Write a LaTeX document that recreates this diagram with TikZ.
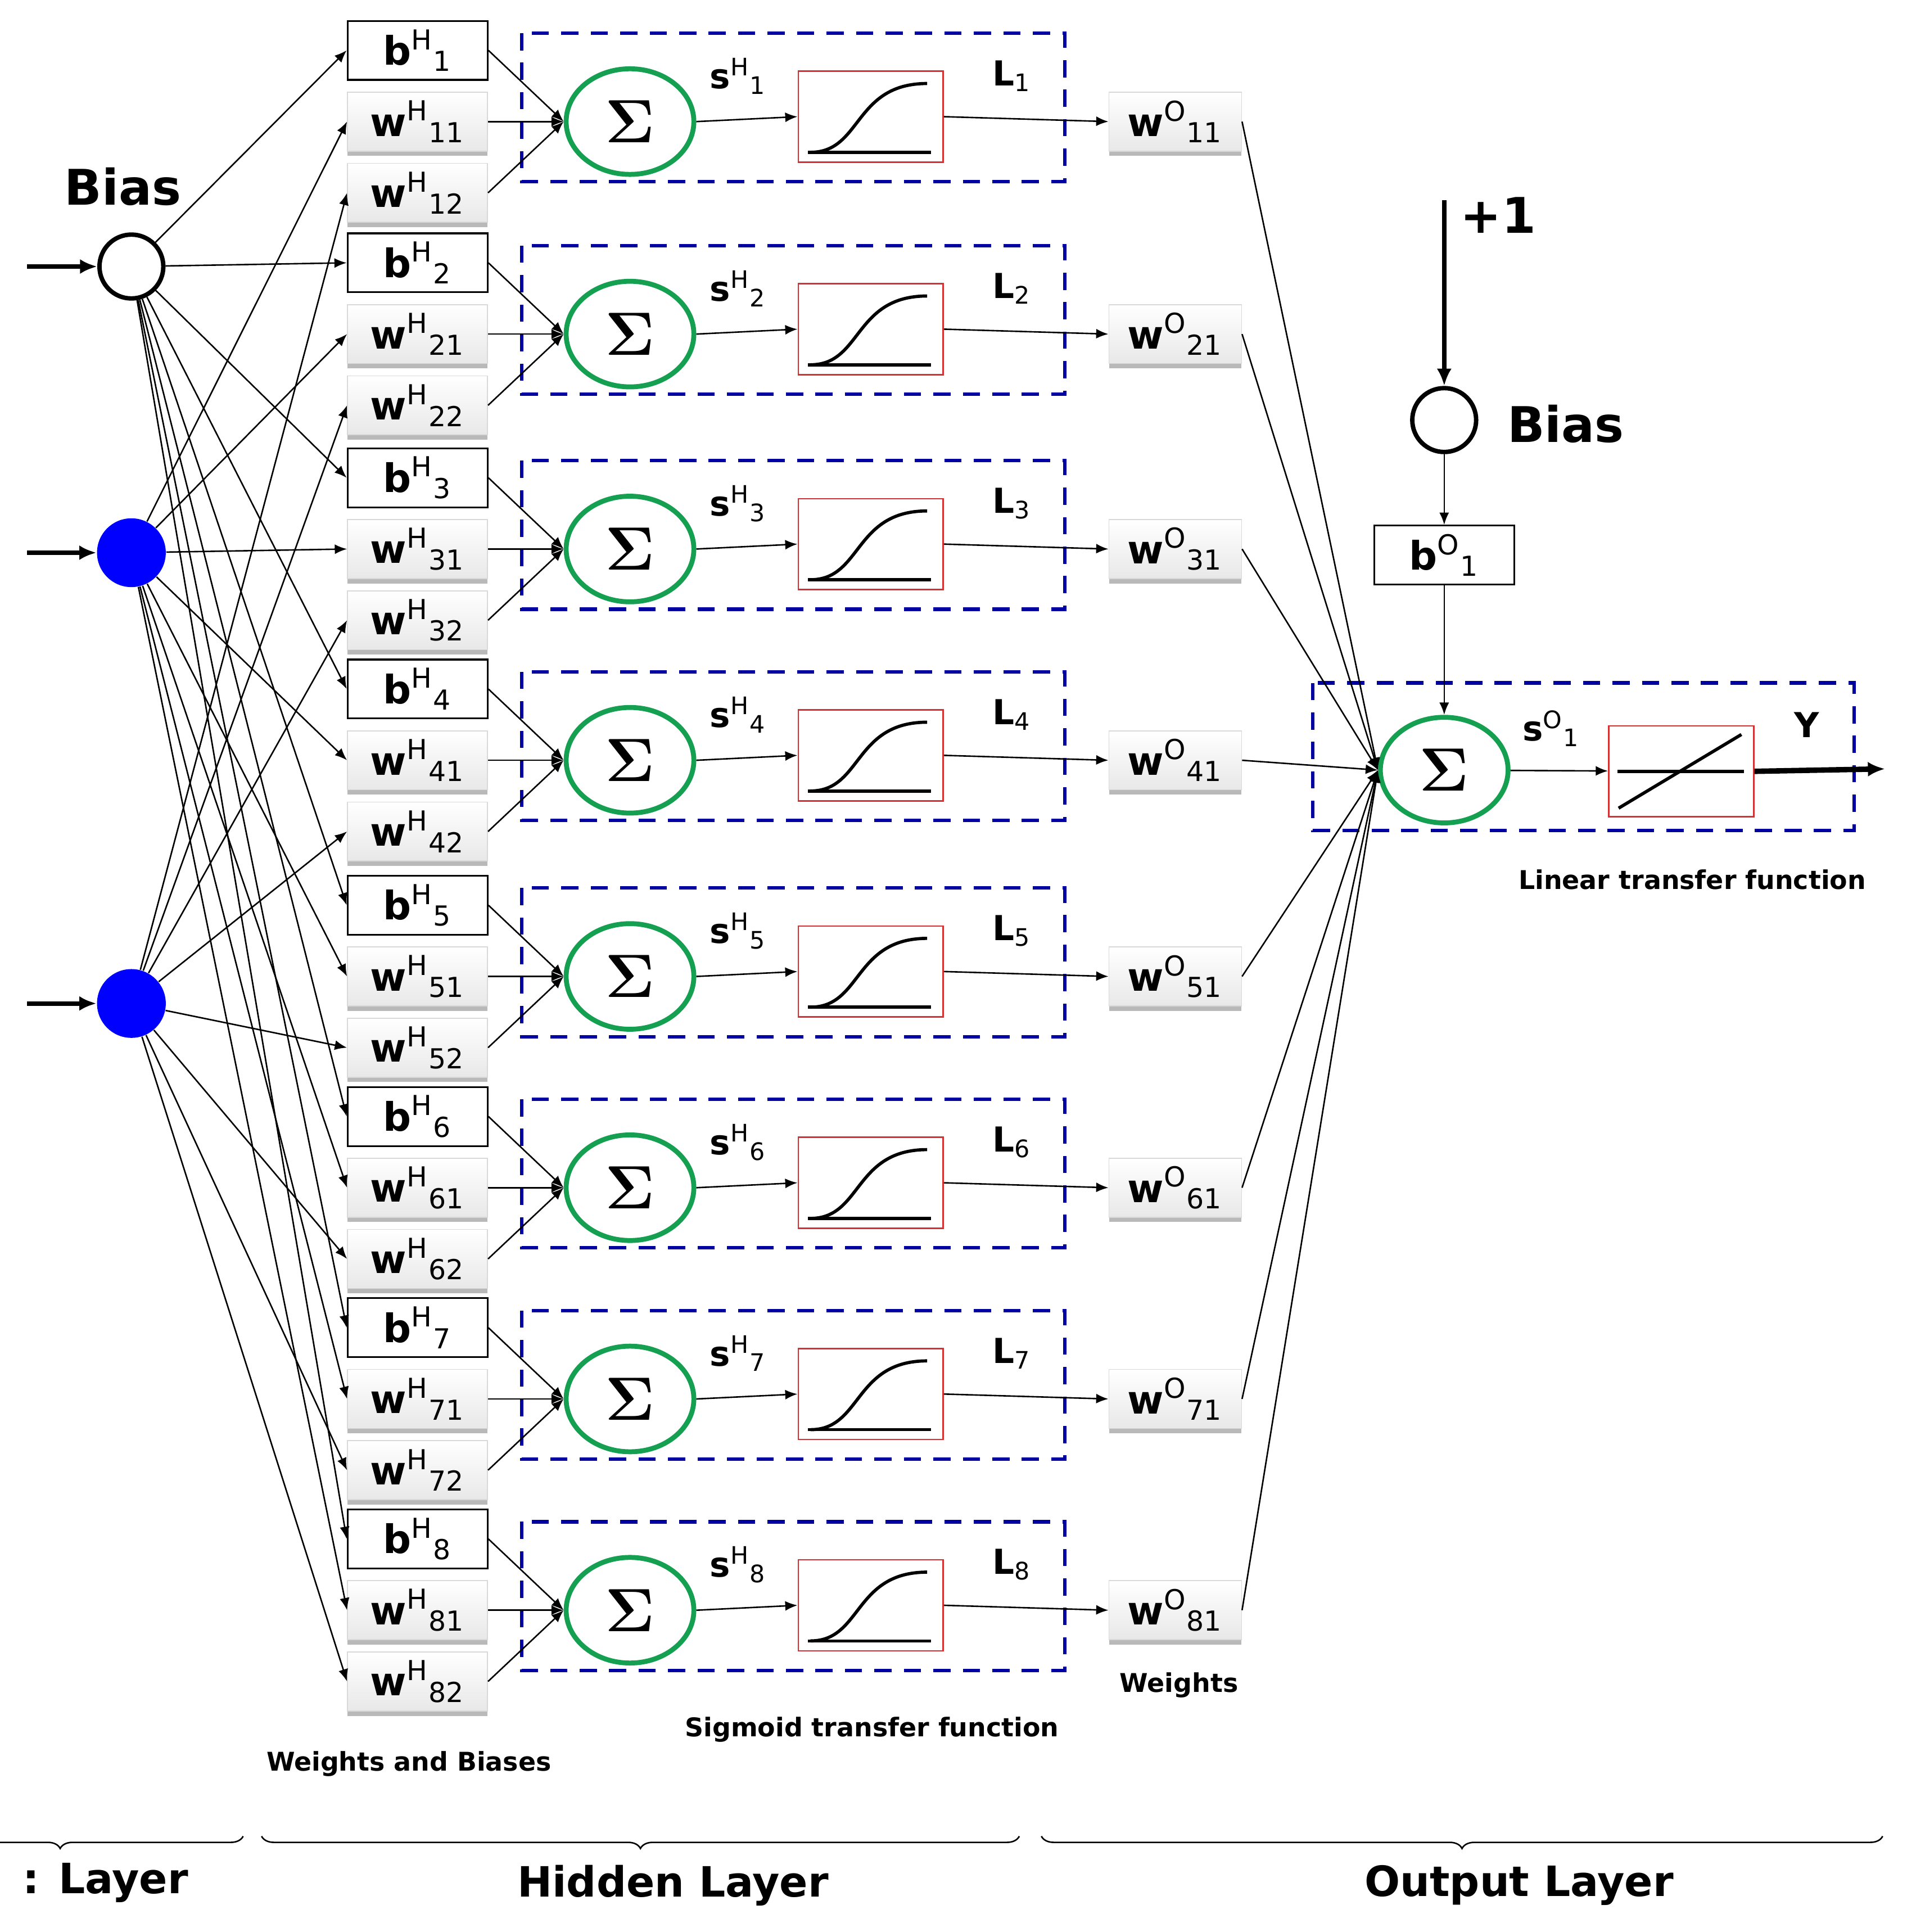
\documentclass[tikz,border=0pt]{standalone}
\usepackage{fontspec}
\setmainfont{DejaVu Sans}
\usetikzlibrary{arrows.meta,shapes.geometric,shadows,decorations.pathreplacing}
\begin{document}
\begin{tikzpicture}[x=0.5pt,y=-0.5pt,
  arr/.style={-{Latex[length=5pt,width=4pt]},line width=0.6pt},
  bbox/.style={draw,line width=0.7pt,fill=white,minimum width=57pt,minimum height=24pt,inner sep=0pt,font=\fontsize{16}{18}\selectfont\bfseries},
  wbox/.style={draw=gray!30,top color=white,bottom color=gray!18,minimum width=57pt,minimum height=24pt,inner sep=0pt,font=\fontsize{16}{18}\selectfont\bfseries,
     general shadow={shadow yshift=-2pt,fill=gray!55}},
  sumn/.style={ellipse,draw={rgb,255:red,20;green,160;blue,80},line width=2pt,minimum width=52pt,minimum height=43pt,inner sep=0pt,font=\fontsize{34}{34}\selectfont\boldmath},
  sigb/.style={draw={rgb,255:red,210;green,50;blue,50},line width=0.6pt,minimum width=59pt,minimum height=37pt,inner sep=0pt},
  dbox/.style={draw={rgb,255:red,0;green,0;blue,160},line width=1.4pt,dash pattern=on 7pt off 5pt},
  lab/.style={font=\fontsize{14}{16}\selectfont\bfseries},
  sm/.style={font=\fontsize{10.5}{12}\selectfont\bfseries},
  big/.style={font=\fontsize{20}{22}\selectfont\bfseries},
  thk/.style={-{Latex[length=7pt,width=6pt]},line width=1.8pt}]
\useasboundingbox (0,0) rectangle (1560,1573);
\clip (0,0) rectangle (1560,1573);
\fill[white] (0,0) rectangle (1560,1573);
% inputs
\node[circle,draw,line width=1.8pt,minimum size=26pt,inner sep=0pt] (in0) at (107,217) {};
\node[circle,fill={rgb,255:red,0;green,0;blue,255},minimum size=28pt,inner sep=0pt] (in1) at (107,450) {};
\node[circle,fill={rgb,255:red,0;green,0;blue,255},minimum size=28pt,inner sep=0pt] (in2) at (107,817) {};
\coordinate (s0) at (22,217); \coordinate (s1) at (22,450); \coordinate (s2) at (22,817);
\draw[thk] (s0) -- (in0); \draw[thk] (s1) -- (in1); \draw[thk] (s2) -- (in2);
\node[big] (biasl) at (100,152) {Bias};
% hidden
\foreach \k/\y in {1/99,2/272,3/447,4/619,5/795,6/967,7/1139,8/1311}{
  \draw[dbox] (425,\y-72) rectangle (867,\y+49);
  \node[bbox] (b\k) at (340,\y-58) {b\textsuperscript{\mdseries H}\textsubscript{\mdseries\k}};
  \node[wbox] (wa\k) at (340,\y) {w\textsuperscript{\mdseries H}\textsubscript{\mdseries\k1}};
  \node[wbox] (wb\k) at (340,\y+58) {w\textsuperscript{\mdseries H}\textsubscript{\mdseries\k2}};
  \node[sumn] (sum\k) at (513,\y) {$\Sigma$};
  \node[sigb] (sig\k) at (709,\y-4) {};
  \draw[line width=1.3pt] (658,\y+25) -- (758,\y+25);
  \draw[line width=1.3pt] (660,\y+25) .. controls (702,\y+25) and (695,\y-31) .. (755,\y-31);
  \node[lab] (sl\k) at (601,\y-37) {s\textsuperscript{\mdseries H}\textsubscript{\mdseries\k}};
  \node[lab] (ll\k) at (824,\y-37) {L\textsubscript{\mdseries\k}};
  \node[wbox,minimum width=54pt] (wo\k) at (957,\y) {w\textsuperscript{\mdseries O}\textsubscript{\mdseries\k1}};
  \draw[arr] (in0) -- (b\k.west);
  \draw[arr] (in1) -- (wa\k.west);
  \draw[arr] (in2) -- (wb\k.west);
  \draw[arr] (b\k.east) -- (sum\k.west);
  \draw[arr] (wa\k.east) -- (sum\k.west);
  \draw[arr] (wb\k.east) -- (sum\k.west);
  \draw[arr] (sum\k.east) -- (sig\k.west);
  \draw[arr] (sig\k.east) -- (wo\k.west);
}
% output
\coordinate (p1) at (1176,163);
\node[circle,draw,line width=1.8pt,minimum size=26pt,inner sep=0pt] (ob) at (1176,342) {};
\draw[thk] (p1) -- (ob);
\node[big] (plus) at (1220,175) {+1};
\node[big] (obl) at (1275,345) {Bias};
\node[bbox] (bo) at (1176,452) {b\textsuperscript{\mdseries O}\textsubscript{\mdseries 1}};
\draw[dbox] (1069,556) rectangle (1510,676);
\node[sumn] (osum) at (1176,627) {$\Sigma$};
\node[sigb] (lin) at (1369,628) {};
\draw[line width=1.3pt] (1317,628) -- (1420,628);
\draw[line width=1.3pt] (1318,658) -- (1418,598);
\draw[arr] (ob) -- (bo);
\draw[arr] (bo) -- (osum);
\draw[arr] (osum) -- (lin);
\coordinate (yout) at (1535,626);
\draw[thk,line width=2.2pt] (lin.east) -- (yout);
\node[lab] (sol) at (1263,593) {s\textsuperscript{\mdseries O}\textsubscript{\mdseries 1}};
\node[lab] (yl) at (1471,590) {Y};
\foreach \k in {1,...,8}{\draw[arr] (wo\k.east) -- (osum.west);}
% captions
\node[sm] (c1) at (1378,716) {Linear transfer function};
\node[sm] (c2) at (960,1372) {Weights};
\node[sm] (c3) at (710,1408) {Sigmoid transfer function};
\node[sm] (c4) at (333,1436) {Weights and Biases};
% braces
\coordinate (a1) at (-100,1495); \coordinate (a2) at (198,1495);
\coordinate (a3) at (213,1495); \coordinate (a4) at (830,1495);
\coordinate (a5) at (848,1495); \coordinate (a6) at (1533,1495);
\draw[decorate,decoration={brace,mirror,amplitude=5pt},line width=0.6pt] (a1) -- (a2);
\draw[decorate,decoration={brace,mirror,amplitude=5pt},line width=0.6pt] (a3) -- (a4);
\draw[decorate,decoration={brace,mirror,amplitude=5pt},line width=0.6pt] (a5) -- (a6);
\node[font=\fontsize{17}{20}\selectfont\bfseries,anchor=west,inner sep=0pt] (L1) at (18,1533) {: Layer};
\node[font=\fontsize{17}{20}\selectfont\bfseries] (L2) at (548,1535) {Hidden Layer};
\node[font=\fontsize{17}{20}\selectfont\bfseries] (L3) at (1237,1535) {Output Layer};
\end{tikzpicture}
\end{document}
